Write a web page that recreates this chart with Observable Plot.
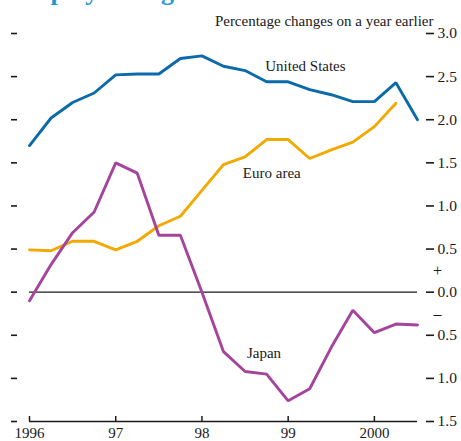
<!DOCTYPE html>
<html>
<head>
<meta charset="utf-8">
<script src="https://cdn.jsdelivr.net/npm/d3@7"></script>
<script src="https://cdn.jsdelivr.net/npm/@observablehq/plot@0.6"></script>
<style>
  html, body { margin: 0; padding: 0; background: #ffffff; }
</style>
</head>
<body>
<div id="chart"></div>
<script>
// Quarterly observations, 1996 Q1 to 2000 Q3
const quarters = [1996.0, 1996.25, 1996.5, 1996.75, 1997.0, 1997.25, 1997.5, 1997.75,
  1998.0, 1998.25, 1998.5, 1998.75, 1999.0, 1999.25, 1999.5, 1999.75, 2000.0, 2000.25, 2000.5];
const unitedStates = [1.70, 2.02, 2.20, 2.31, 2.52, 2.53, 2.53, 2.71, 2.74, 2.62, 2.57, 2.44,
  2.44, 2.35, 2.29, 2.21, 2.21, 2.43, 2.00];
const euroArea = [0.49, 0.48, 0.59, 0.59, 0.49, 0.59, 0.77, 0.88, 1.18, 1.48, 1.57, 1.77,
  1.77, 1.55, 1.65, 1.74, 1.92, 2.19];
const japan = [-0.10, 0.32, 0.69, 0.93, 1.50, 1.38, 0.66, 0.66, 0.00, -0.69, -0.92, -0.95,
  -1.26, -1.12, -0.64, -0.21, -0.47, -0.37, -0.38];

const seriesNames = ["United States", "Euro area", "Japan"];
const seriesColors = ["#0b6aa9", "#f2a900", "#a4449c"];
const labelX = [1999.2, 1998.81, 1998.72];
const labelY = [2.62, 1.375, -0.705];

const xTicks = [1996, 1997, 1998, 1999, 2000];
const xTickLabels = ["1996", "97", "98", "99", "2000"];
const yTicks = [-1.5, -1.0, -0.5, 0.0, 0.5, 1.0, 1.5, 2.0, 2.5, 3.0];
const signLabels = ["+", "\u2013"];
const signY = [0.25, -0.25];

const titleText = "Employment growth";
const unitText = "Percentage changes on a year earlier";

const rows = [];
[unitedStates, euroArea, japan].forEach((vals, s) => {
  vals.forEach((v, i) => rows.push({series: seriesNames[s], x: quarters[i], y: v}));
});
const labels = seriesNames.map((n, i) => ({name: n, x: labelX[i], y: labelY[i]}));
const signs = signLabels.map((t, i) => ({t, y: signY[i]}));

const ink = "#1a1a1a";
const chart = Plot.plot({
  width: 461,
  height: 441,
  marginLeft: 29,
  marginRight: 44,
  marginTop: 33,
  marginBottom: 20,
  style: {fontFamily: "'Liberation Serif', serif", fontSize: "15px", background: "#ffffff", color: ink, overflow: "visible"},
  x: {domain: [1996, 2000.5]},
  y: {domain: [-1.5, 3.0]},
  color: {domain: seriesNames, range: seriesColors},
  marks: [
    Plot.ruleY([0], {stroke: ink, strokeWidth: 1.3}),
    Plot.ruleY([-1.5], {stroke: ink, strokeWidth: 1.6}),
    Plot.lineY(rows, {x: "x", y: "y", z: "series", stroke: "series", strokeWidth: 2.9, strokeLinejoin: "miter"}),
    // bottom axis: upward ticks and labels
    Plot.axisX({anchor: "bottom", ticks: xTicks, tickSize: 5, dy: -5, tickFormat: () => "", label: null, stroke: ink, strokeWidth: 1.5}),
    Plot.axisX({anchor: "bottom", ticks: xTicks, tickSize: 0, tickPadding: 6,
      tickFormat: (d) => xTickLabels[xTicks.indexOf(d)], label: null, fill: ink, fontSize: 15}),
    // left tick dashes (no labels)
    Plot.axisY({anchor: "left", ticks: yTicks, tickSize: 6, dx: -12, tickFormat: () => "", label: null, stroke: ink, strokeWidth: 1.6}),
    // right axis
    Plot.axisY({anchor: "right", ticks: yTicks, tickSize: 8, dx: 8, tickPadding: 4,
      tickFormat: (d) => Math.abs(d).toFixed(1), label: null, stroke: ink, strokeWidth: 1.6, fill: ink, fontSize: 15.5}),
    Plot.text(signs, {frameAnchor: "right", y: "y", text: "t", dx: 20, textAnchor: "middle", fill: ink, fontSize: 16}),
    Plot.text(labels, {x: "x", y: "y", text: "name", fill: ink, fontSize: 15}),
    Plot.text([unitText], {frameAnchor: "top-right", dx: 16, dy: -12, textAnchor: "end", lineAnchor: "middle", fill: ink, fontSize: 15}),
    Plot.text([titleText], {frameAnchor: "top-left", dx: -18, dy: -34, textAnchor: "start", lineAnchor: "bottom",
      fill: "#1c9bd8", fontSize: 26, fontWeight: "bold"})
  ]
});
document.getElementById("chart").appendChild(chart);
</script>
</body>
</html>
